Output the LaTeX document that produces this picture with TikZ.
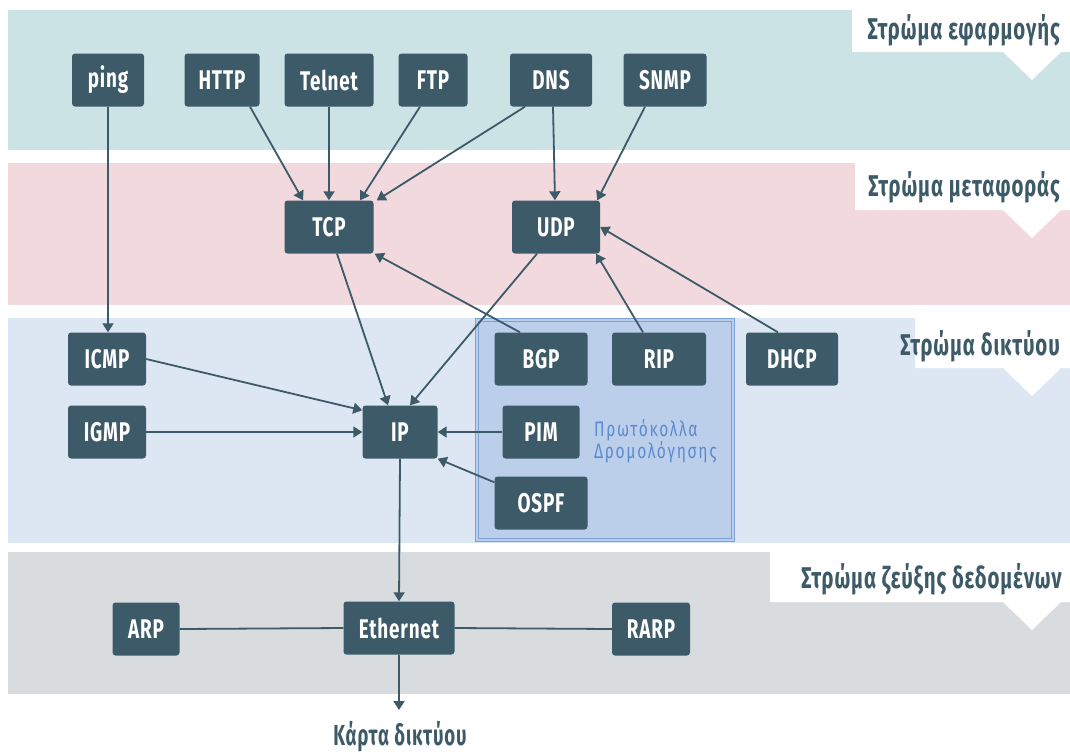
\documentclass[tikz,border=0pt]{standalone}
\usepackage{fontspec}
\setmainfont{Fira Sans}[FakeStretch=0.7, LetterSpace=3]
\newfontfamily\routefont{Fira Sans}[FakeStretch=0.74, LetterSpace=8]
\newfontfamily\tabfont{Fira Sans}[FakeStretch=0.68, LetterSpace=3]
\newfontfamily\cardfont{Fira Sans}[FakeStretch=0.64, LetterSpace=3]
\usetikzlibrary{arrows.meta,calc}
\definecolor{nodecol}{HTML}{3D5A68}
\definecolor{bandA}{HTML}{CCE3E6}
\definecolor{bandB}{HTML}{F1D9DD}
\definecolor{bandC}{HTML}{DDE7F3}
\definecolor{bandD}{HTML}{D8DCDF}
\definecolor{routefill}{HTML}{BBCFEA}
\definecolor{routeline}{HTML}{7BA3DA}
\definecolor{routetext}{HTML}{5B8BCF}
\tikzset{
  proto/.style={fill=nodecol, rounded corners=3pt, text=white,
    font=\bfseries\fontsize{27}{27}\selectfont, minimum height=53pt,
    inner sep=0pt, anchor=center},
  arr/.style={-{Triangle[length=9pt,width=11pt]}, line width=1.8pt, draw=nodecol},
  ln/.style={line width=1.8pt, draw=nodecol},
  tabtext/.style={text=nodecol, font=\tabfont\bfseries\fontsize{30}{30}\selectfont, anchor=east, inner sep=0pt},
}
\begin{document}
\begin{tikzpicture}[x=1pt,y=-1pt]
\useasboundingbox (0,0) rectangle (1070,753);
% bands
\fill[bandA] (8,10) rectangle (1070,150);
\fill[bandB] (8,163) rectangle (1070,305);
\fill[bandC] (8,318) rectangle (1070,543);
\fill[bandD] (8,552) rectangle (1070,694);
% tabs
\fill[white] (852,9) rectangle (1070,52) (1003,52) -- (1032,80) -- (1061,52) -- cycle;
\fill[white] (855,163) rectangle (1070,210) (1003,210) -- (1032,238) -- (1061,210) -- cycle;
\fill[white] (915,318) rectangle (1070,368) (1003,368) -- (1032,396) -- (1061,368) -- cycle;
\fill[white] (770,552) rectangle (1070,602) (1003,602) -- (1032,630) -- (1061,602) -- cycle;
\node[tabtext] (tA) at (1060,30) {Στρώμα εφαρμογής};
\node[tabtext] (tB) at (1060,187) {Στρώμα μεταφοράς};
\node[tabtext] (tC) at (1060,346) {Στρώμα δικτύου};
\node[tabtext] (tD) at (1062,579) {Στρώμα ζεύξης δεδομένων};
% routing box
\fill[routefill] (475,318) rectangle (734,541);
\draw[routeline, line width=1pt] (475,318) rectangle (734,541);
\draw[routeline, line width=0.8pt] (478,321) rectangle (731,538);
\node[text=routetext, font=\routefont\fontsize{21}{22}\selectfont, align=left, anchor=west, inner sep=0pt] (rt) at (594,441) {Πρωτόκολλα\\Δρομολόγησης};
% nodes
\node[proto, minimum width=72pt] (ping) at (108,80) {ping};
\node[proto, minimum width=75pt] (HTTP) at (222,80) {HTTP};
\node[proto, minimum width=89pt] (Telnet) at (329,80) {Telnet};
\node[proto, minimum width=69pt] (FTP) at (433,80) {FTP};
\node[proto, minimum width=82pt] (DNS) at (551,80) {DNS};
\node[proto, minimum width=83pt] (SNMP) at (665,80) {SNMP};
\node[proto, minimum width=89pt] (TCP) at (329,227) {TCP};
\node[proto, minimum width=88pt] (UDP) at (556,227) {UDP};
\node[proto, minimum width=78pt] (ICMP) at (107,359) {ICMP};
\node[proto, minimum width=93pt] (BGP) at (541,359) {BGP};
\node[proto, minimum width=94pt] (RIP) at (659,359) {RIP};
\node[proto, minimum width=92pt] (DHCP) at (792,359) {DHCP};
\node[proto, minimum width=78pt] (IGMP) at (107,432) {IGMP};
\node[proto, minimum width=75pt] (IP) at (400,432) {IP};
\node[proto, minimum width=77pt] (PIM) at (541,432) {PIM};
\node[proto, minimum width=93pt] (OSPF) at (541,503) {OSPF};
\node[proto, minimum width=67pt] (ARP) at (146,629) {ARP};
\node[proto, minimum width=111pt] (Eth) at (399,628) {Ethernet};
\node[proto, minimum width=78pt] (RARP) at (651,629) {RARP};
\node[text=nodecol, font=\cardfont\bfseries\fontsize{29}{29}\selectfont, inner sep=0pt] (card) at (400,737) {Κάρτα δικτύου};
\coordinate (cardtop) at (399,710);
% connectors
\draw[arr] (ping.south) -- (ping.south |- ICMP.north);
\draw[arr] ($(HTTP.south)+(28,0)$) -- ($(TCP.north)+(-26,0)$);
\draw[arr] (Telnet.south) -- (TCP.north);
\draw[arr] ($(FTP.south)+(-13,0)$) -- ($(TCP.north)+(31,0)$);
\draw[arr] ($(DNS.south)+(-26,0)$) -- ($(TCP.north east)+(3,0)$);
\draw[arr] ($(DNS.south)+(2,0)$) -- ($(UDP.north)+(-1,0)$);
\draw[arr] ($(SNMP.south)+(-20,0)$) -- ($(UDP.north east)+(-3,0)$);
\draw[arr] ($(DHCP.north)+(-14,0)$) -- (UDP.east);
\draw[arr] ($(RIP.north)+(-16,0)$) -- ($(UDP.south east)+(-4,0)$);
\draw[arr] ($(BGP.north)+(-21,0)$) -- ($(TCP.south east)+(1,0)$);
\draw[arr] ($(TCP.south)+(8,0)$) -- ($(IP.north)+(-12,0)$);
\draw[arr] ($(UDP.south)+(-19,0)$) -- ($(IP.north)+(10,0)$);
\draw[arr] (ICMP.east) -- ($(IP.north west)+(0,5)$);
\draw[arr] (IGMP.east) -- (IP.west);
\draw[arr] (PIM.west) -- (IP.east);
\draw[arr] ($(OSPF.north west)+(0,6)$) -- (IP.south east);
\draw[arr] (IP.south) -- (Eth.north);
\draw[ln] (ARP.east) -- (Eth.west);
\draw[ln] (Eth.east) -- (RARP.west);
\draw[arr] (Eth.south) -- (cardtop);
\end{tikzpicture}
\end{document}
